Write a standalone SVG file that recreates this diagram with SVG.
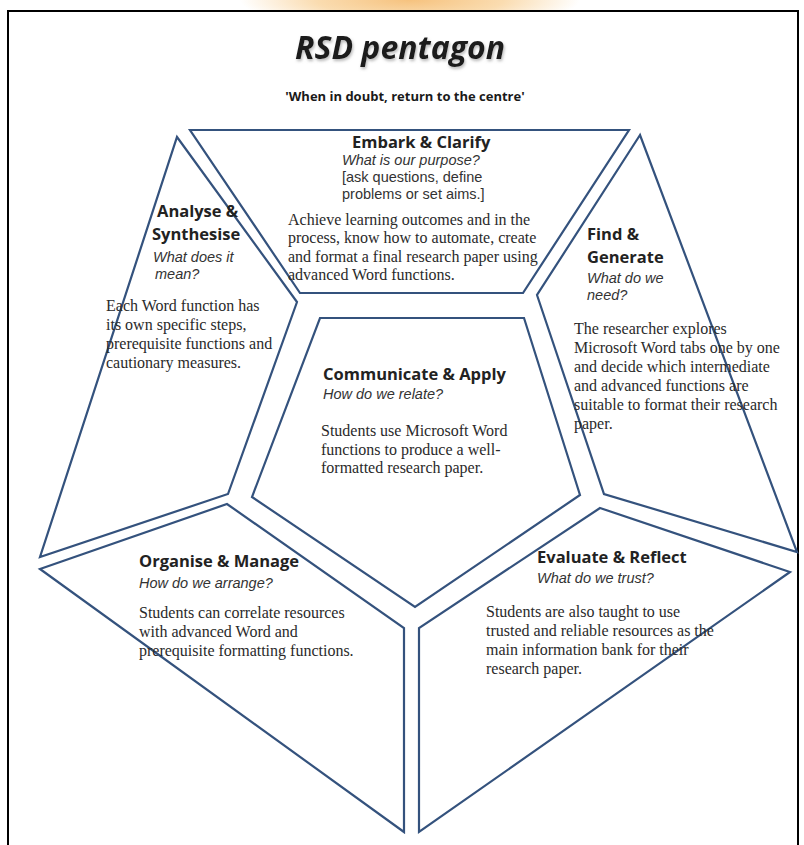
<svg xmlns="http://www.w3.org/2000/svg" width="804" height="845" viewBox="0 0 804 845">
<defs>
<radialGradient id="glow" cx="0.5" cy="0.5" r="0.5">
<stop offset="0" stop-color="#f6c27e"/>
<stop offset="0.55" stop-color="#fadcb0"/>
<stop offset="1" stop-color="#ffffff"/>
</radialGradient>
<filter id="shadow" x="-10%" y="-20%" width="120%" height="160%">
<feDropShadow dx="1" dy="2" stdDeviation="1.5" flood-color="#888" flood-opacity="0.6"/>
</filter>
<style>
.shape{fill:#ffffff;stroke:#34527d;stroke-width:2.2;stroke-linejoin:miter}
.head{font-family:"Open Sans","Liberation Sans",sans-serif;font-weight:700;font-size:16.5px;fill:#222}
.ital{font-family:"Liberation Sans",Arial,sans-serif;font-style:italic;font-size:14.5px;fill:#333}
.sans{font-family:"Liberation Sans",Arial,sans-serif;font-size:14.5px;fill:#333}
.body{font-family:"Liberation Serif","Times New Roman",serif;font-size:16px;fill:#2a2a2a}
</style>
</defs>
<rect x="0" y="0" width="804" height="845" fill="#ffffff"/>
<ellipse cx="410" cy="0" rx="170" ry="30" fill="url(#glow)"/>
<rect x="8" y="11" width="790" height="850" fill="#ffffff" stroke="#000000" stroke-width="2"/>
<text x="400" y="59" text-anchor="middle" font-family="'Open Sans','Liberation Sans',sans-serif" font-weight="700" font-style="italic" font-size="32" fill="#1a1a1a" filter="url(#shadow)">RSD pentagon</text>
<text x="405" y="101" text-anchor="middle" font-family="'Open Sans','Liberation Sans',sans-serif" font-weight="700" font-size="13" fill="#1a1a1a">'When in doubt, return to the centre'</text>

<g id="embark-clarify">
<polygon class="shape" points="190,130 629,130 523,293 300,293"/>
<text class="head" x="352" y="148">Embark &amp; Clarify</text>
<text class="ital" x="342" y="165">What is our purpose?</text>
<text class="sans" x="342" y="182">[ask questions, define</text>
<text class="sans" x="342" y="199">problems or set aims.]</text>
<text class="body" x="288" y="225">Achieve learning outcomes and in the</text>
<text class="body" x="288" y="243">process, know how to automate, create</text>
<text class="body" x="288" y="262">and format a final research paper using</text>
<text class="body" x="288" y="280">advanced Word functions.</text>
</g>

<g id="analyse-synthesise">
<polygon class="shape" points="177,137 297,302 228,494 40,557"/>
<text class="head" x="157" y="217">Analyse &amp;</text>
<text class="head" x="152" y="240">Synthesise</text>
<text class="ital" x="153" y="262">What does it</text>
<text class="ital" x="155" y="279">mean?</text>
<text class="body" x="106" y="311">Each Word function has</text>
<text class="body" x="106" y="330">its own specific steps,</text>
<text class="body" x="106" y="349">prerequisite functions and</text>
<text class="body" x="106" y="368">cautionary measures.</text>
</g>

<g id="find-generate">
<polygon class="shape" points="640,135 537,295 604,494 797,552"/>
<text class="head" x="587" y="240">Find &amp;</text>
<text class="head" x="587" y="263">Generate</text>
<text class="ital" x="587" y="283">What do we</text>
<text class="ital" x="587" y="300">need?</text>
<text class="body" x="574" y="334">The researcher explores</text>
<text class="body" x="574" y="353">Microsoft Word tabs one by one</text>
<text class="body" x="574" y="372">and decide which intermediate</text>
<text class="body" x="574" y="391">and advanced functions are</text>
<text class="body" x="574" y="410">suitable to format their research</text>
<text class="body" x="574" y="429">paper.</text>
</g>

<g id="communicate-apply">
<polygon class="shape" points="320,318 524,318 580,495 415,607 252,497"/>
<text class="head" x="323" y="380">Communicate &amp; Apply</text>
<text class="ital" x="323" y="399">How do we relate?</text>
<text class="body" x="321" y="436">Students use Microsoft Word</text>
<text class="body" x="321" y="455">functions to produce a well-</text>
<text class="body" x="321" y="473">formatted research paper.</text>
</g>

<g id="organise-manage">
<polygon class="shape" points="40,569 227,504 404,628 404,832"/>
<text class="head" x="139" y="567">Organise &amp; Manage</text>
<text class="ital" x="139" y="588">How do we arrange?</text>
<text class="body" x="139" y="618">Students can correlate resources</text>
<text class="body" x="139" y="637">with advanced Word and</text>
<text class="body" x="139" y="656">prerequisite formatting functions.</text>
</g>

<g id="evaluate-reflect">
<polygon class="shape" points="600,508 790,572 419,832 419,628"/>
<text class="head" x="537" y="563">Evaluate &amp; Reflect</text>
<text class="ital" x="537" y="583">What do we trust?</text>
<text class="body" x="486" y="617">Students are also taught to use</text>
<text class="body" x="486" y="636">trusted and reliable resources as the</text>
<text class="body" x="486" y="655">main information bank for their</text>
<text class="body" x="486" y="674">research paper.</text>
</g>

<g id="connectors"/>
</svg>
